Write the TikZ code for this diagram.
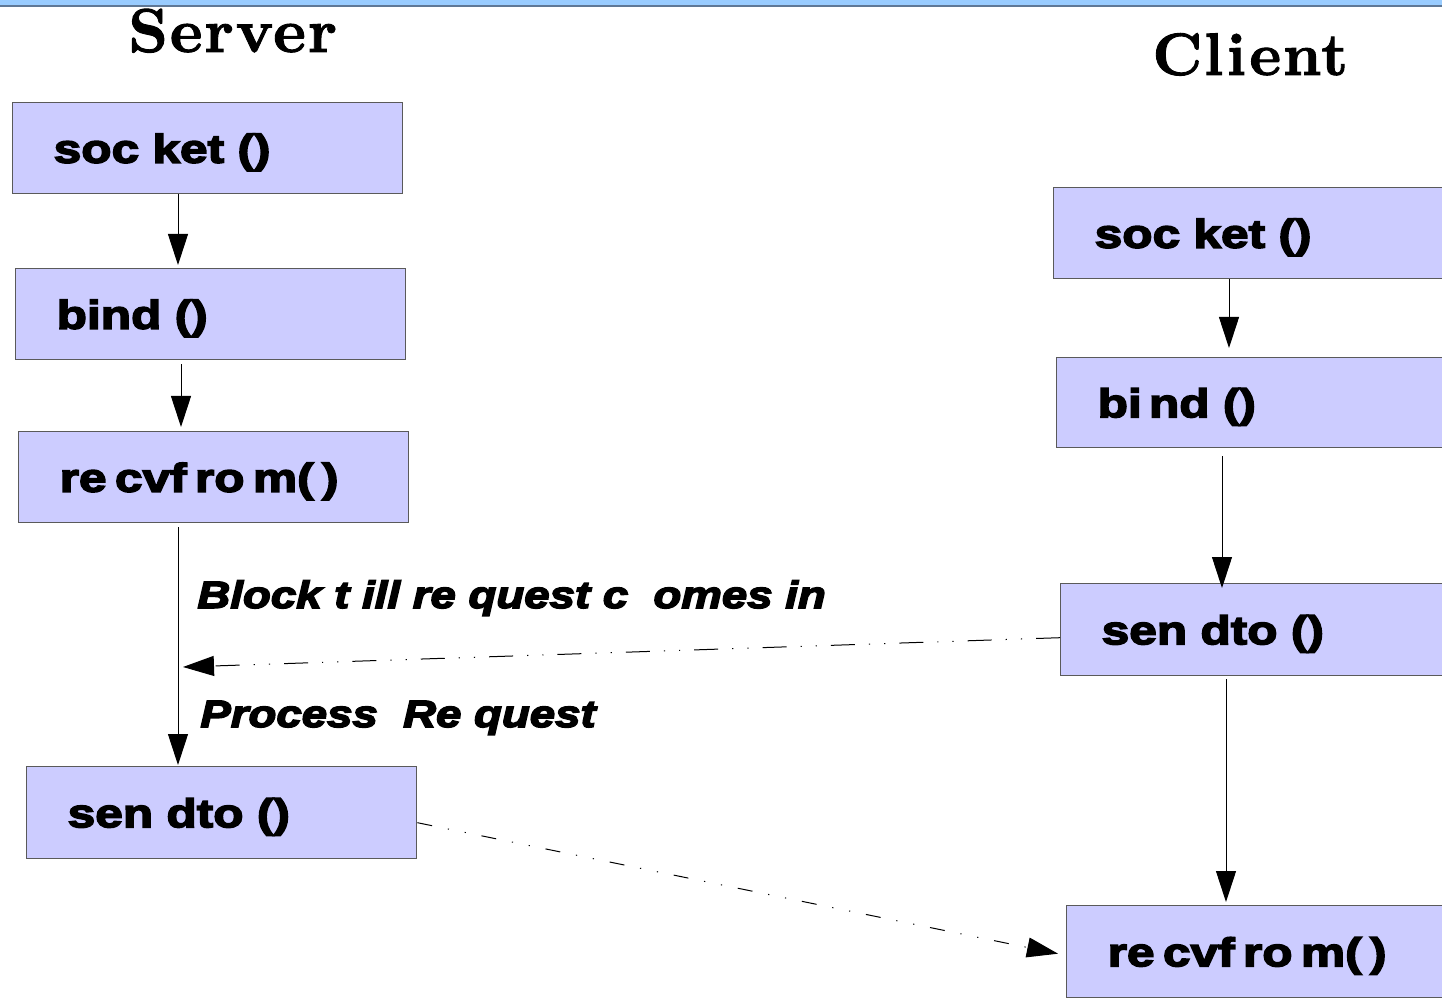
\documentclass[tikz,border=0pt]{standalone}
\usepackage{fontspec}
\usetikzlibrary{arrows.meta,calc}
\newfontfamily\heavyfont[FakeStretch=1.24, BoldFeatures={FakeBold=4}]{Liberation Sans}
\newfontfamily\labelfont[FakeStretch=1.2, BoldItalicFeatures={FakeBold=4}]{Liberation Sans}
\newfontfamily\titlefont[Extension=.otf, FakeBold=1.5, LetterSpace=3]{lmroman10-bold}
\definecolor{boxfill}{RGB}{204,204,255}
\definecolor{boxline}{RGB}{90,90,90}
\definecolor{barblue}{RGB}{153,204,255}
\definecolor{barline}{RGB}{95,120,150}
\begin{document}
\begin{tikzpicture}[x=0.5pt,y=-0.5pt,
  stepbox/.style={draw=boxline, fill=boxfill, line width=0.7pt, anchor=north west,
    text width=154pt, inner xsep=20.5pt, inner ysep=0pt, minimum height=45.5pt, align=left,
    font=\heavyfont\bfseries\fontsize{20pt}{24pt}\selectfont, text height=14.5pt, text depth=0pt},
  arr/.style={line width=0.5pt, -{Triangle[length=15.5pt,width=10pt]}},
  dasharrA/.style={line width=0.5pt, dash pattern=on 12pt off 7pt on 0.6pt off 7pt on 0.6pt off 7pt, -{Triangle[length=15.5pt,width=10pt]}},
  dasharrB/.style={line width=0.5pt, dash pattern=on 7.5pt off 8pt on 0.6pt off 8pt on 0.6pt off 8pt, -{Triangle[length=15.5pt,width=10pt]}},
  lbl/.style={font=\labelfont\bfseries\itshape\fontsize{19pt}{23pt}\selectfont, inner sep=0pt, anchor=base west},
  ttl/.style={font=\titlefont\fontsize{31pt}{36pt}\selectfont, inner sep=0pt, anchor=base west}]
\useasboundingbox (0,0) rectangle (1442,1000);
\fill[white] (0,0) rectangle (1442,1000);
\fill[barblue] (0,0) rectangle (1442,6);
\draw[barline, line width=1pt] (0,6.5) -- (1442,6.5);

% titles
\node[ttl] (srv) at (128,52) {Server};
\node[ttl, font=\titlefont\fontsize{30pt}{36pt}\selectfont] (cli) at (1152,75) {\spaceskip=0.06em Cl i ent};

% server boxes
\node[stepbox] (s1) at (12,102) {soc ket ()};
\node[stepbox] (s2) at (15,268) {bind ()};
\node[stepbox] (s3) at (18,431) {\spaceskip=0.21em re cvf ro m( )};
\node[stepbox, minimum height=46pt] (s4) at (26,766) {sen dto ()};

% client boxes
\node[stepbox] (c1) at (1053,187) {soc ket ()};
\node[stepbox, minimum height=45pt] (c2) at (1056,357) {{\spaceskip=0.18em bi nd} ()};
\node[stepbox, minimum height=46pt] (c3) at (1060,583) {sen dto ()};
\node[stepbox, minimum height=46pt] (c4) at (1066,905) {\spaceskip=0.21em re cvf ro m( )};

% x positions of the vertical connectors
\coordinate (xa) at (178,0);
\coordinate (xb) at (181,0);
\coordinate (xc) at (1229,0);
\coordinate (xd) at (1222,0);
\coordinate (xe) at (1226,0);

\draw[arr, shorten >=1.5pt] (s1.south -| xa) -- (s2.north -| xa);
\draw[arr, shorten <=2pt, shorten >=2pt] (s2.south -| xb) -- (s3.north -| xb);
\draw[arr, shorten <=2pt, shorten >=0.5pt] (s3.south -| xa) -- (s4.north -| xa);

\draw[arr, shorten >=4.5pt] (c1.south -| xc) -- (c2.north -| xc);
\draw[arr, shorten <=4pt, shorten >=-2.5pt] (c2.south -| xd) -- (c3.north -| xd);
\draw[arr, shorten <=1.5pt, shorten >=1.5pt] (c3.south -| xe) -- (c4.north -| xe);

% labels
\node[lbl] (blk) at (197,608) {Block t ill re quest c~ omes in};
\node[lbl] (prc) at (200,727) {Process~ Re quest};

% messages
\coordinate (rcv) at (183,667);
\draw[dasharrA] ([yshift=-4pt]c3.west) -- (rcv);
\draw[dasharrB] ([yshift=-5pt]s4.east) -- ([xshift=-4pt,yshift=-1pt]c4.west);
\end{tikzpicture}
\end{document}
